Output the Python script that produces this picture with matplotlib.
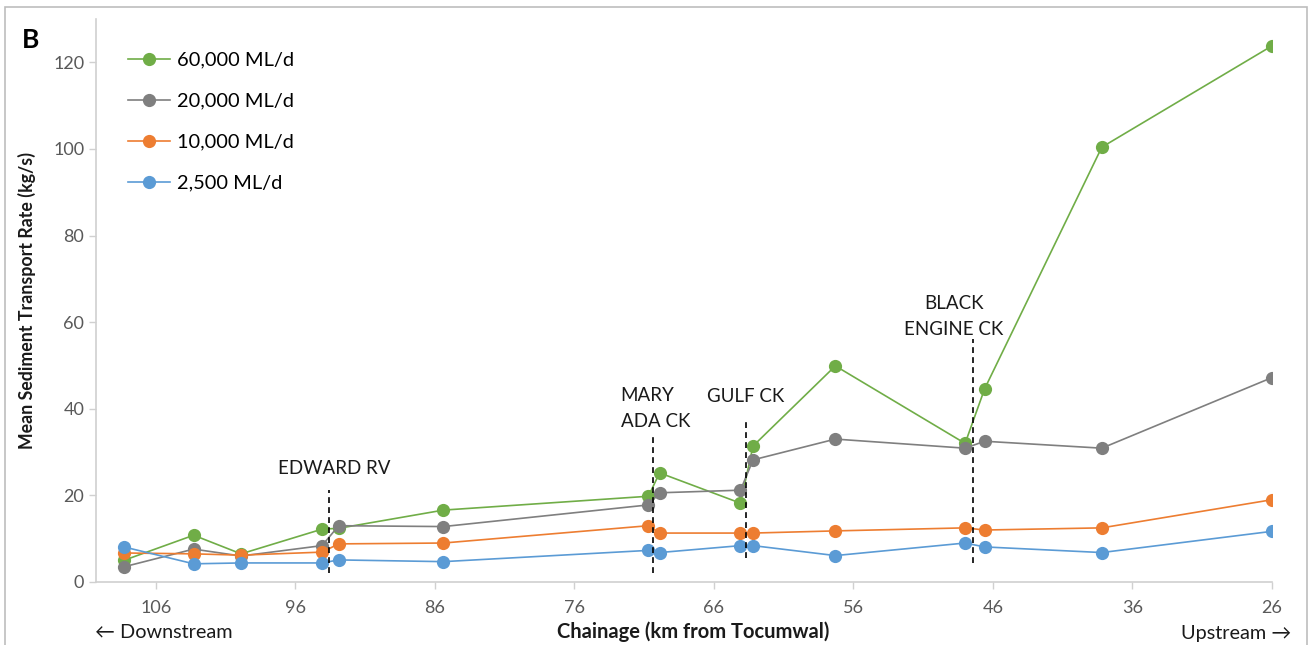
import matplotlib.pyplot as plt
from matplotlib.patches import Rectangle

plt.rcParams['font.family'] = ['Lato', 'DejaVu Sans']

# === Dados ===
chainage = [108.3, 103.3, 99.9, 94.1, 92.9, 85.4, 70.7, 69.9, 64.1, 63.2, 57.3, 48.0, 46.6, 38.2, 26.0]

flow_60000 = [5.0, 10.8, 6.5, 12.2, 12.4, 16.6, 19.8, 25.2, 18.2, 31.4, 49.9, 32.0, 44.6, 100.4, 123.8]
flow_20000 = [3.5, 7.6, 6.0, 8.4, 13.0, 12.8, 17.8, 20.6, 21.2, 28.2, 33.0, 30.9, 32.5, 30.9, 47.2]
flow_10000 = [6.7, 6.5, 6.2, 6.9, 8.8, 9.0, 13.0, 11.3, 11.3, 11.3, 11.8, 12.5, 12.0, 12.5, 19.0]
flow_2500 = [8.1, 4.2, 4.4, 4.4, 5.1, 4.7, 7.3, 6.8, 8.4, 8.4, 6.1, 9.0, 8.1, 6.8, 11.7]

series_labels = ["60,000 ML/d", "20,000 ML/d", "10,000 ML/d", "2,500 ML/d"]
series_colors = ["#70AD47", "#7F7F7F", "#ED7D31", "#5B9BD5"]

# afluentes: nome, chainage da linha, posição do texto, y inicial, y final
tributary_names = ["EDWARD RV", "MARY\nADA CK", "GULF CK", "BLACK\nENGINE CK"]
tributary_km = [93.6, 70.4, 63.7, 47.4]
tributary_text_km = [93.2, 72.7, 63.7, 48.8]
tributary_text_y = [26.3, 40.0, 42.9, 61.3]
tributary_align = ["center", "left", "center", "center"]
tributary_top = [21.3, 34.5, 37.5, 56.0]
tributary_bottom = [2.0, 2.0, 5.5, 4.5]

x_ticks = [106, 96, 86, 76, 66, 56, 46, 36, 26]
y_ticks = [0, 20, 40, 60, 80, 100, 120]

# === Figura ===
fig = plt.figure(figsize=(13.12, 6.45), dpi=100)
ax = fig.add_axes([96 / 1312, 1 - 582 / 645, (1272 - 96) / 1312, (582 - 19) / 645])

all_series = [flow_60000, flow_20000, flow_10000, flow_2500]
for vals, lab, col in zip(all_series, series_labels, series_colors):
    ax.plot(chainage, vals, color=col, lw=1.2, marker="o", markersize=9.5,
            markeredgewidth=0, label=lab)

for name, km, tkm, ty, al, top, bot in zip(tributary_names, tributary_km, tributary_text_km,
                                           tributary_text_y, tributary_align,
                                           tributary_top, tributary_bottom):
    ax.plot([km, km], [bot, top], color="black", lw=1.2, ls=(0, (3.5, 2.5)))
    ax.text(tkm, ty, name, ha=al, va="center", fontsize=13.5,
            color="#1a1a1a", linespacing=1.62)

ax.set_xlim(110.3, 26)
ax.set_ylim(0, 130)
ax.set_xticks(x_ticks)
ax.set_yticks(y_ticks)
ax.tick_params(axis="both", colors="#d0d0d0", labelcolor="#595959", labelsize=13,
               length=5, width=1, direction="out")
ax.tick_params(axis="x", pad=8)
for s in ["top", "right"]:
    ax.spines[s].set_visible(False)
for s in ["left", "bottom"]:
    ax.spines[s].set_color("#d0d0d0")
    ax.spines[s].set_linewidth(1.2)

ax.set_ylabel("Mean Sediment Transport Rate (kg/s)", fontsize=12.8, fontweight="bold",
              color="#1a1a1a", labelpad=12)

leg = ax.legend(loc="upper left", bbox_to_anchor=(0.012, 0.974), frameon=False,
                fontsize=14.4, handlelength=2.1, handletextpad=0.35, labelspacing=1.2)

fig.text(693 / 1312, 1 - 632 / 645, "Chainage (km from Tocumwal)", ha="center", va="center",
         fontsize=14.5, fontweight="bold", color="#1a1a1a")
fig.text(95 / 1312, 1 - 632 / 645, "\u2190 Downstream", ha="left", va="center",
         fontsize=14.3, color="#1a1a1a")
fig.text(1291 / 1312, 1 - 634 / 645, "Upstream \u2192", ha="right", va="center",
         fontsize=14.3, color="#1a1a1a")
fig.text(22 / 1312, 1 - 40 / 645, "B", ha="left", va="center", fontsize=19,
         fontweight="bold", color="black")

# moldura da figura
fig.patches.append(Rectangle((5 / 1312, -0.05), (1307 - 5) / 1312, 1.05 - 7 / 645,
                             transform=fig.transFigure, fill=False,
                             edgecolor="#bdbdbd", lw=1.2))

fig.savefig("out.png", dpi=100)
